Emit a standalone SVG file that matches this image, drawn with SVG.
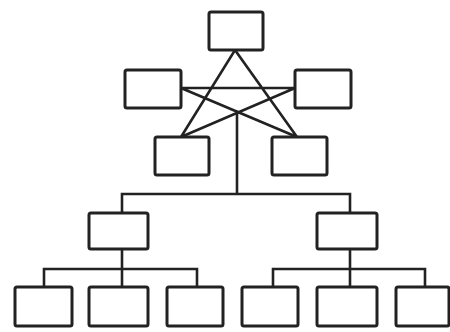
<svg xmlns="http://www.w3.org/2000/svg" width="450" height="332" viewBox="0 0 450 332">
<style>
.box{fill:#fff;stroke:#222;stroke-width:3;}
.ln{fill:none;stroke:#222;stroke-width:2.6;stroke-linecap:square;}
</style>
<rect width="450" height="332" fill="#fff"/>
<g id="connectors" class="ln">
<path d="M235 50 L181 137 M235 50 L297 137 M181 88 L295 88 M181 88 L297 137 M295 88 L181 137"/>
<path d="M237 112 L237 194 M122 194 L350 194 M122 194 L122 213 M350 194 L350 213"/>
<path d="M122 249 L122 287 M44 269 L197 269 M44 269 L44 287 M197 269 L197 287"/>
<path d="M350 249 L350 287 M273 269 L425 269 M273 269 L273 287 M425 269 L425 287"/>
</g>
<g id="n1"><rect class="box" x="209" y="12" width="54" height="38" rx="2"/></g>
<g id="n2"><rect class="box" x="125" y="70" width="56" height="38" rx="2"/></g>
<g id="n3"><rect class="box" x="295" y="70" width="56" height="38" rx="2"/></g>
<g id="n4"><rect class="box" x="155" y="137" width="54" height="38" rx="2"/></g>
<g id="n5"><rect class="box" x="272" y="137" width="55" height="38" rx="2"/></g>
<g id="n6"><rect class="box" x="89" y="213" width="59" height="36" rx="2"/></g>
<g id="n7"><rect class="box" x="317" y="213" width="60" height="36" rx="2"/></g>
<g id="n8"><rect class="box" x="15" y="287" width="57" height="39" rx="2"/></g>
<g id="n9"><rect class="box" x="89" y="287" width="59" height="39" rx="2"/></g>
<g id="n10"><rect class="box" x="167" y="287" width="56" height="39" rx="2"/></g>
<g id="n11"><rect class="box" x="242" y="287" width="56" height="39" rx="2"/></g>
<g id="n12"><rect class="box" x="317" y="287" width="60" height="39" rx="2"/></g>
<g id="n13"><rect class="box" x="396" y="287" width="53" height="39" rx="2"/></g>
</svg>
